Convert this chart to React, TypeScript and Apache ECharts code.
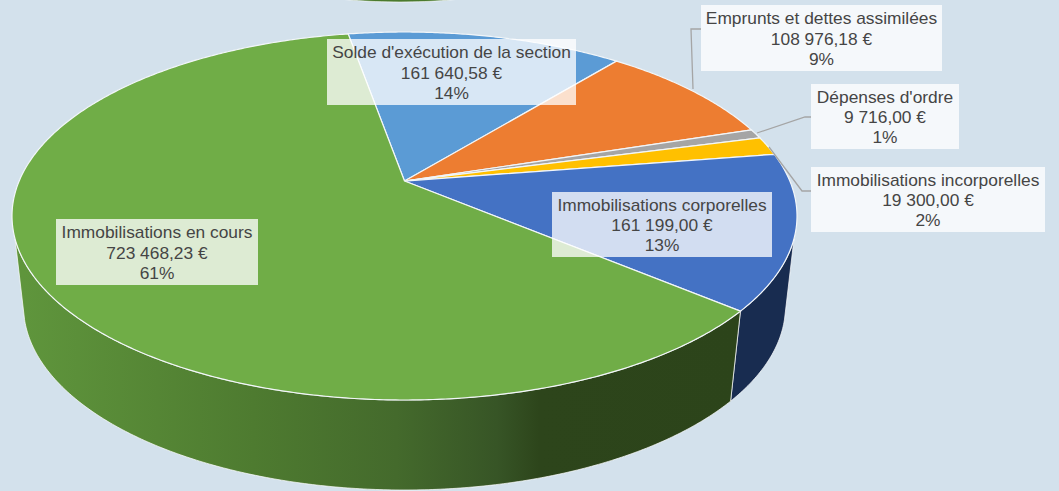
import React, { useEffect, useRef } from "react";
import * as echarts from "echarts";

const categories = [
  "Solde d'exécution de la section",
  "Emprunts et dettes assimilées",
  "Dépenses d'ordre",
  "Immobilisations incorporelles",
  "Immobilisations corporelles",
  "Immobilisations en cours",
];
const values = [161640.58, 108976.18, 9716.0, 19300.0, 161199.0, 723468.23];
const amountLabels = ["161 640,58 €", "108 976,18 €", "9 716,00 €", "19 300,00 €", "161 199,00 €", "723 468,23 €"];
const percentLabels = ["14%", "9%", "1%", "2%", "13%", "61%"];

const topColors = ["#5B9BD5", "#ED7D31", "#A5A5A5", "#FFC000", "#4472C4", "#70AD47"];
const labelBoxes = [
  [327, 39, 249, 66],
  [701, 5, 241, 66],
  [811, 84, 148, 65],
  [811, 167, 234, 65],
  [552, 192, 220, 65],
  [56, 219, 202, 66],
];
const leaders: (number[][] | null)[] = [
  null,
  [[693, 89], [691, 29], [701, 29]],
  [[757, 133], [805, 117], [811, 117]],
  [[769, 147], [802, 191], [811, 191]],
  null,
  null,
];

const CX = 404.5, CY = 216, RX = 392.5, RY = 184;
const BCY = 306, BRX = 381, BRY = 184;
const A = -0.19;
const START = -10;
const SIL = 7;
const total = values.reduce((s, v) => s + v, 0);

function sliceRange(i: number): [number, number] {
  let c = 0;
  for (let k = 0; k < i; k++) c += values[k];
  return [START + (c / total) * 360, START + ((c + values[i]) / total) * 360];
}
function rimAlpha(deg: number): [number, number] {
  const r = (deg * Math.PI) / 180;
  const u = Math.sin(r), v = -Math.cos(r);
  const d = 1 + A * v;
  return [(u * Math.sqrt(1 - A * A)) / d, (v + A) / d];
}
function steps(a: number, b: number): number[] {
  const n = Math.max(2, Math.ceil((b - a) / 0.5));
  return Array.from({ length: n + 1 }, (_, k) => a + ((b - a) * k) / n);
}
function bottomAlpha(alpha: number): number {
  const d = alpha - 90;
  const m = Math.abs(d);
  const m2 = m <= 59 ? m : 59 + (m - 59) * 1.125;
  return 90 + Math.sign(d) * m2;
}

const green = new echarts.graphic.LinearGradient(24, 0, 740, 0, [
  { offset: 0, color: "#5F953C" },
  { offset: 0.32, color: "#4E7B30" },
  { offset: 0.52, color: "#446A2C" },
  { offset: 0.66, color: "#375526" },
  { offset: 0.72, color: "#2D451B" },
  { offset: 1, color: "#2C441A" },
], true);
const wallFills: any[] = [null, null, null, null, "#182C50", green];

function renderWall(params: any) {
  const i = params.dataIndex;
  const [a, b] = sliceRange(i);
  const top: number[][] = [];
  const bottom: number[][] = [];
  for (const t of steps(a, b)) {
    const [u, v] = rimAlpha(t);
    const alpha = (Math.atan2(v, u) * 180) / Math.PI;
    if (alpha < SIL || alpha > 180 - SIL) continue;
    const ab = (bottomAlpha(alpha) * Math.PI) / 180;
    top.push([CX + RX * u, CY + RY * v]);
    bottom.push([CX + BRX * Math.cos(ab), BCY + BRY * Math.sin(ab)]);
  }
  if (top.length < 2 || !wallFills[i]) return null;
  return {
    type: "polygon",
    shape: { points: top.concat(bottom.reverse()) },
    style: { fill: wallFills[i], stroke: "rgba(255,255,255,0.7)", lineWidth: 1 },
    silent: true,
  };
}
function renderTop(params: any) {
  const i = params.dataIndex;
  const [a, b] = sliceRange(i);
  const pts = [[CX, CY + A * RY]];
  for (const t of steps(a, b)) {
    const [u, v] = rimAlpha(t);
    pts.push([CX + RX * u, CY + RY * v]);
  }
  return {
    type: "polygon",
    shape: { points: pts },
    style: { fill: topColors[i], stroke: "#F2F6F9", lineWidth: 1.2 },
    silent: true,
  };
}
function renderLabel(params: any) {
  const i = params.dataIndex;
  const [x, y, w, h] = labelBoxes[i];
  const children: any[] = [
    { type: "rect", shape: { x, y, width: w, height: h }, style: { fill: "rgba(255,255,255,0.76)" } },
    {
      type: "text",
      style: {
        x: x + w / 2,
        y: y + h / 2 + 0.5,
        text: `${categories[i]}\n${amountLabels[i]}\n${percentLabels[i]}`,
        align: "center",
        verticalAlign: "middle",
        fontFamily: "Liberation Sans",
        fontSize: 17.35,
        lineHeight: 20.3,
        fill: "#454545",
      },
    },
  ];
  if (leaders[i]) {
    children.unshift({
      type: "polyline",
      shape: { points: leaders[i] },
      style: { fill: "none", stroke: "#A5A5A5", lineWidth: 1.3 },
    });
  }
  return { type: "group", children, silent: true };
}

export default function App() {
  const ref = useRef<HTMLDivElement>(null);
  useEffect(() => {
    document.body.style.margin = "0";
    const chart = echarts.init(ref.current!, null, { renderer: "svg" });
    const data = values.map((v, i) => ({ name: categories[i], value: [v] }));
    chart.setOption({
      animation: false,
      backgroundColor: "#D3E1EC",
      tooltip: { show: false },
      graphic: [
        {
          type: "ellipse",
          shape: { cx: 400, cy: -20, rx: 120, ry: 22 },
          style: { fill: "#4A7A2E", stroke: "rgba(255,255,255,0.6)", lineWidth: 1 },
          silent: true,
        },
      ],
      series: [
        { type: "custom", coordinateSystem: "none", renderItem: renderWall, data, z: 1, silent: true },
        { type: "custom", coordinateSystem: "none", renderItem: renderTop, data, z: 2, silent: true },
        { type: "custom", coordinateSystem: "none", renderItem: renderLabel, data, z: 3, silent: true },
      ],
    });
    return () => chart.dispose();
  }, []);
  return <div ref={ref} style={{ position: "absolute", left: 0, top: 0, width: 1059, height: 491, overflow: "hidden" }} />;
}
